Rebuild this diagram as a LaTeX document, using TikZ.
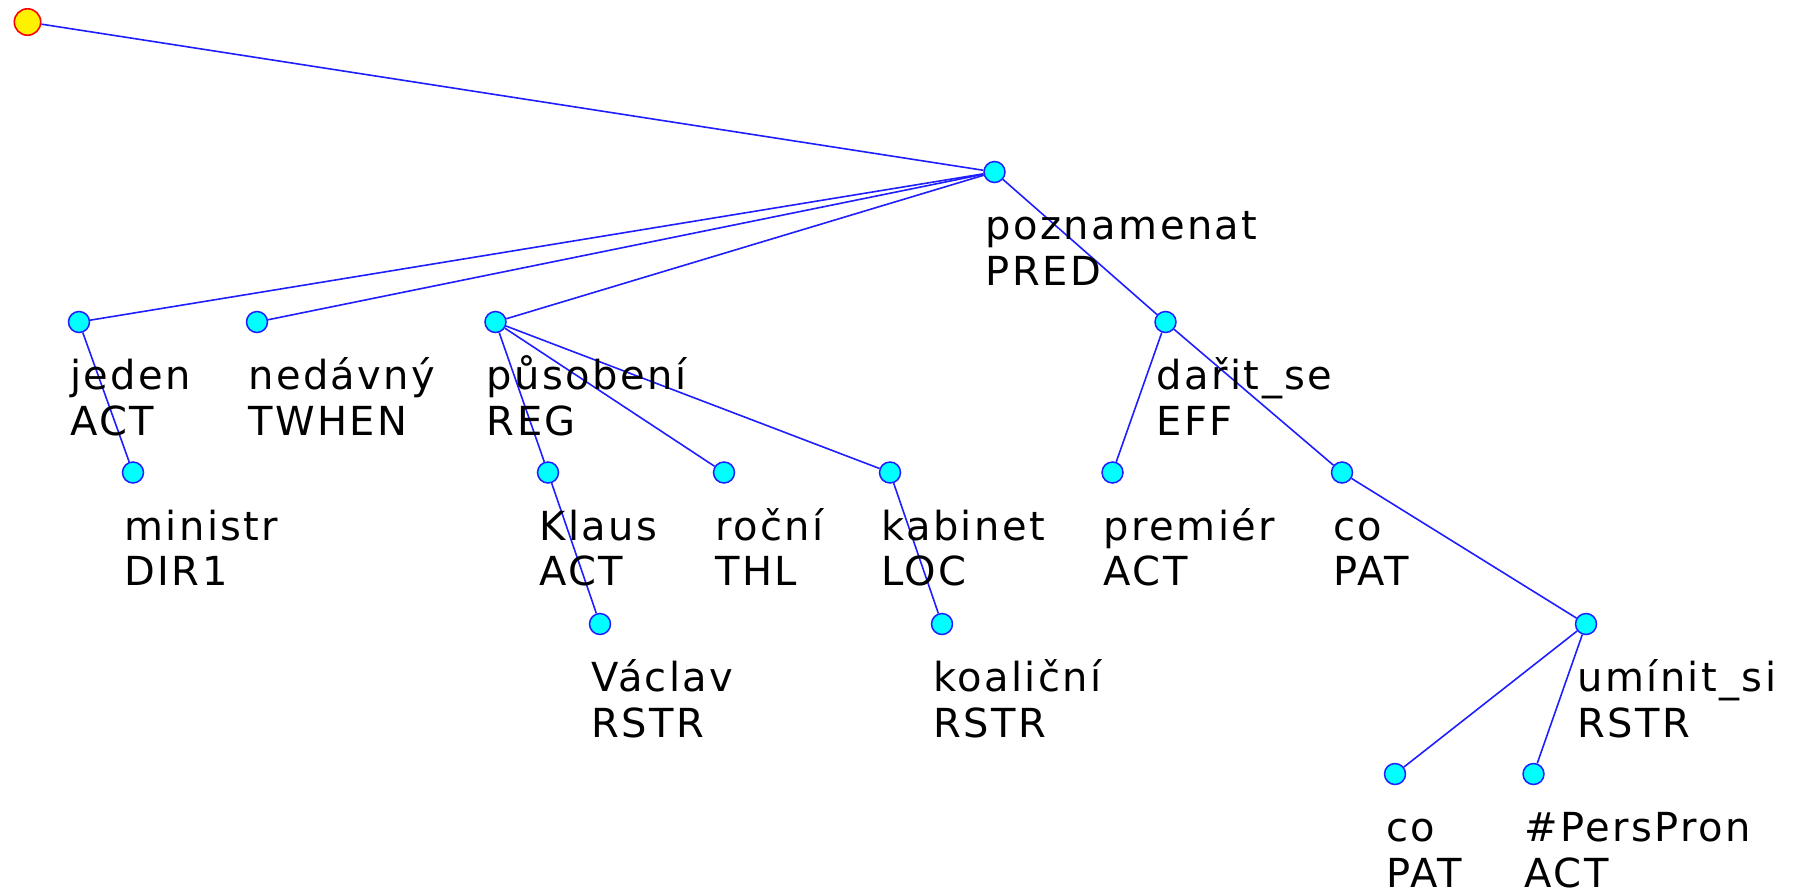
\documentclass[tikz,border=0pt]{standalone}
\usepackage{fontspec}
\setmainfont{DejaVu Sans}
\newfontfamily\lblfont{DejaVu Sans}[LetterSpace=6]
\definecolor{edgeblue}{RGB}{30,30,255}
\definecolor{nodecyan}{RGB}{0,255,255}
\newcommand{\twoline}[2]{\vtop{\baselineskip=22.75pt\hbox{#1}\hbox{#2}}}
\begin{document}
\begin{tikzpicture}[x=0.5pt,y=-0.5pt,
  tnode/.style={circle,draw=edgeblue,fill=nodecyan,line width=0.75pt,minimum size=10.5pt,inner sep=0pt},
  rootnode/.style={circle,draw=red,fill=yellow,line width=0.8pt,minimum size=13.2pt,inner sep=0pt},
  link/.style={draw=edgeblue,line width=0.8pt},
  lbl/.style={anchor=base west,inner sep=0pt,font=\lblfont\fontsize{20pt}{22.75pt}\selectfont}]
\useasboundingbox (0,0) rectangle (1799,890);
% tree nodes
\node[rootnode] (root) at (27.5,22) {};
\node[tnode] (pozn) at (994.5,172) {};
\node[tnode] (jeden) at (79,322) {};
\node[tnode] (nedavny) at (257,322) {};
\node[tnode] (pusobeni) at (495.5,322) {};
\node[tnode] (darit) at (1165.5,322) {};
\node[tnode] (ministr) at (133,472.5) {};
\node[tnode] (klaus) at (548,472.5) {};
\node[tnode] (rocni) at (724,472.5) {};
\node[tnode] (kabinet) at (890,472.5) {};
\node[tnode] (premier) at (1112.5,472.5) {};
\node[tnode] (co) at (1342,472.5) {};
\node[tnode] (vaclav) at (600,624) {};
\node[tnode] (koalicni) at (942,624) {};
\node[tnode] (uminit) at (1586,624) {};
\node[tnode] (coB) at (1395,774) {};
\node[tnode] (pers) at (1533.5,774) {};
% edges
\draw[link] (root) -- (pozn);
\draw[link] (pozn) -- (jeden);
\draw[link] (pozn) -- (nedavny);
\draw[link] (pozn) -- (pusobeni);
\draw[link] (pozn) -- (darit);
\draw[link] (jeden) -- (ministr);
\draw[link] (pusobeni) -- (klaus);
\draw[link] (pusobeni) -- (rocni);
\draw[link] (pusobeni) -- (kabinet);
\draw[link] (klaus) -- (vaclav);
\draw[link] (kabinet) -- (koalicni);
\draw[link] (darit) -- (premier);
\draw[link] (darit) -- (co);
\draw[link] (co) -- (uminit);
\draw[link] (uminit) -- (coB);
\draw[link] (uminit) -- (pers);
% labels
\node[lbl] (lpozn) at ([shift={(-9,67.5)}]pozn.center) {\twoline{poznamenat}{PRED}};
\node[lbl] (ljeden) at ([shift={(-9,67.5)}]jeden.center) {\twoline{jeden}{ACT}};
\node[lbl] (lnedavny) at ([shift={(-9,67.5)}]nedavny.center) {\twoline{nedávný}{TWHEN}};
\node[lbl] (lpusobeni) at ([shift={(-9,67.5)}]pusobeni.center) {\twoline{působení}{REG}};
\node[lbl] (ldarit) at ([shift={(-9,67.5)}]darit.center) {\twoline{dařit\_se}{EFF}};
\node[lbl] (lministr) at ([shift={(-9,67.5)}]ministr.center) {\twoline{ministr}{DIR1}};
\node[lbl] (lklaus) at ([shift={(-9,67.5)}]klaus.center) {\twoline{Klaus}{ACT}};
\node[lbl] (lrocni) at ([shift={(-9,67.5)}]rocni.center) {\twoline{roční}{THL}};
\node[lbl] (lkabinet) at ([shift={(-9,67.5)}]kabinet.center) {\twoline{kabinet}{LOC}};
\node[lbl] (lpremier) at ([shift={(-9,67.5)}]premier.center) {\twoline{premiér}{ACT}};
\node[lbl] (lco) at ([shift={(-9,67.5)}]co.center) {\twoline{co}{PAT}};
\node[lbl] (lvaclav) at ([shift={(-9,67.5)}]vaclav.center) {\twoline{Václav}{RSTR}};
\node[lbl] (lkoalicni) at ([shift={(-9,67.5)}]koalicni.center) {\twoline{koaliční}{RSTR}};
\node[lbl] (luminit) at ([shift={(-9,67.5)}]uminit.center) {\twoline{umínit\_si}{RSTR}};
\node[lbl] (lcoB) at ([shift={(-9,67.5)}]coB.center) {\twoline{co}{PAT}};
\node[lbl] (lpers) at ([shift={(-9,67.5)}]pers.center) {\twoline{\#PersPron}{ACT}};
\end{tikzpicture}
\end{document}
